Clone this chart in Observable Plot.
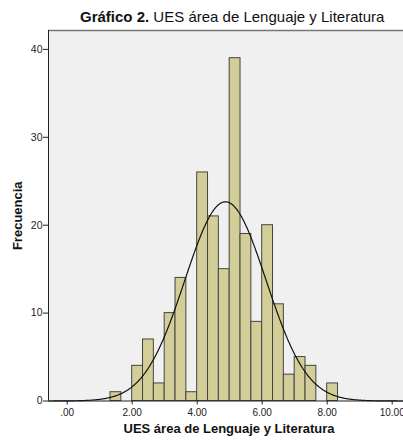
<!DOCTYPE html>
<html>
<head>
<meta charset="utf-8">
<script src="https://cdn.jsdelivr.net/npm/d3@7"></script>
<script src="https://cdn.jsdelivr.net/npm/@observablehq/plot@0.6"></script>
<style>
  html, body { margin: 0; padding: 0; background: #ffffff; }
  #title { height: 30px; box-sizing: border-box; padding-left: 80px; padding-top: 8px;
    font-family: "Liberation Sans", Arial, sans-serif; font-size: 15px; color: #111; line-height: 17px; white-space: nowrap; }
  #chart svg { display: block; }
</style>
</head>
<body>
<div id="title"><b>Gráfico 2.</b> UES área de Lenguaje y Literatura</div>
<div id="chart"></div>
<script>
// Histogram bins (lower edge, upper edge) and frequencies
const binLower = [4/3, 2, 7/3, 8/3, 3, 10/3, 11/3, 4, 13/3, 14/3, 5, 16/3, 17/3, 6, 19/3, 20/3, 7, 22/3, 23/3, 8];
const binUpper = [5/3, 7/3, 8/3, 3, 10/3, 11/3, 4, 13/3, 14/3, 5, 16/3, 17/3, 6, 19/3, 20/3, 7, 22/3, 23/3, 8, 25/3];
const counts   = [1, 4, 7, 2, 10, 14, 1, 26, 21, 15, 39, 19, 9, 20, 11, 3, 5, 4, 0, 2];

// Fitted normal curve parameters
const meanVal = 4.87;
const sdVal = 1.25;
const nTotal = 213;
const binWidth = 1/3;

// Axis ticks
const xTicks = [0, 2, 4, 6, 8, 10];
const yTicks = [0, 10, 20, 30, 40];

const xDomain = [-0.575, 10.348];
const yDomain = [0, 42.15];

const bins = counts.map((c, i) => ({x1: binLower[i], x2: binUpper[i], count: c}));

const curve = d3.range(xDomain[0], xDomain[1] + 0.001, 0.02).map(x => ({
  x,
  y: nTotal * binWidth / (sdVal * Math.sqrt(2 * Math.PI)) * Math.exp(-0.5 * ((x - meanVal) / sdVal) ** 2)
}));

const chart = Plot.plot({
  width: 403,
  height: 412,
  marginTop: 0,
  marginLeft: 48,
  marginRight: 0,
  marginBottom: 41.5,
  style: { fontFamily: "Liberation Sans, Arial, sans-serif", fontSize: "10px", color: "#222", background: "#ffffff", overflow: "visible" },
  x: { domain: xDomain },
  y: { domain: yDomain },
  marks: [
    Plot.frame({ fill: "#f0f0f0", stroke: null }),
    Plot.rectY(bins, { x1: "x1", x2: "x2", y: "count", fill: "#d3ce97", stroke: "#444444", strokeWidth: 1, inset: 0 }),
    Plot.line(curve, { x: "x", y: "y", stroke: "#111", strokeWidth: 1.2 }),
    Plot.ruleY([yDomain[1]], { stroke: "#777", strokeWidth: 1.5 }),
    Plot.ruleX([xDomain[0]], { stroke: "#222", strokeWidth: 1 }),
    Plot.ruleY([0], { stroke: "#222", strokeWidth: 1 }),
    Plot.axisY({ ticks: yTicks, tickSize: 5, tickPadding: 1, label: null, fontSize: 10.5 }),
    Plot.axisX({ ticks: xTicks, tickSize: 4, tickPadding: 4, label: null, fontSize: 10,
      tickFormat: d => d === 0 ? ".00" : d.toFixed(2) }),
    Plot.text(["UES área de Lenguaje y Literatura"], { frameAnchor: "bottom", dx: 3, dy: 31.5, fontWeight: "bold", fontSize: 13, fill: "#111" }),
    Plot.text(["Frecuencia"], { x: xDomain[0], y: yDomain[1] / 2, dx: -31, rotate: -90, fontWeight: "bold", fontSize: 13, fill: "#111" })
  ]
});
document.getElementById("chart").appendChild(chart);
</script>
</body>
</html>
